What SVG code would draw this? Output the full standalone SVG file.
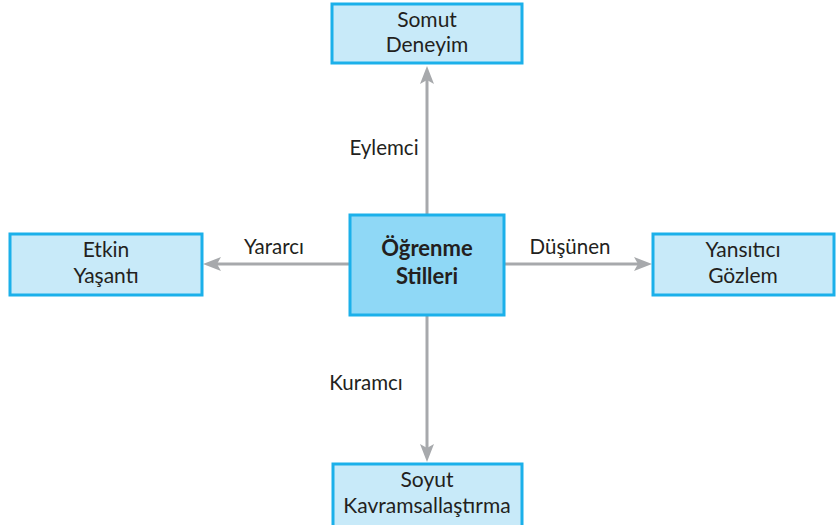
<svg xmlns="http://www.w3.org/2000/svg" width="836" height="525" viewBox="0 0 836 525">
<style>
.box{fill:#c8eaf9;stroke:#1bb0ea;stroke-width:3}
.core{fill:#8fd8f6;stroke:#1bb0ea;stroke-width:3}
.t{font-family:Lato,"Open Sans",sans-serif;font-size:21px;fill:#231f20;text-anchor:middle}
.b{font-weight:bold;font-size:22px}
.c{stroke:#a7a9ac;stroke-width:3;fill:none}
.ah{fill:#a7a9ac}
.l{font-family:Lato,"Open Sans",sans-serif;font-size:20.5px;fill:#231f20;text-anchor:middle}
</style>
<g id="connectors">
<path class="c" d="M427,215 V78"/>
<path class="ah" d="M427,66 L434,84 L427,80 L420,84 Z"/>
<path class="c" d="M427,315 V450"/>
<path class="ah" d="M427,462 L434,444 L427,448 L420,444 Z"/>
<path class="c" d="M350,264 H215"/>
<path class="ah" d="M203,264 L221,257 L217,264 L221,271 Z"/>
<path class="c" d="M505,264 H640"/>
<path class="ah" d="M652,264 L634,257 L638,264 L634,271 Z"/>
<text class="l" x="384" y="155">Eylemci</text>
<text class="l" x="274" y="254">Yararcı</text>
<text class="l" x="570" y="254">Düşünen</text>
<text class="l" x="366" y="390">Kuramcı</text>
</g>
<g id="somut">
<rect class="box" x="332" y="4" width="190" height="59"/>
<text class="t" x="427" y="27">Somut</text>
<text class="t" x="427" y="52">Deneyim</text>
</g>
<g id="center">
<rect class="core" x="350" y="215" width="154" height="100"/>
<text class="t b" x="427" y="256">Öğrenme</text>
<text class="t b" x="427" y="284">Stilleri</text>
</g>
<g id="etkin">
<rect class="box" x="10" y="234" width="192" height="61"/>
<text class="t" x="106" y="257">Etkin</text>
<text class="t" x="106" y="283">Yaşantı</text>
</g>
<g id="yansitici">
<rect class="box" x="653" y="234" width="181" height="61"/>
<text class="t" x="743" y="257">Yansıtıcı</text>
<text class="t" x="743" y="283">Gözlem</text>
</g>
<g id="soyut">
<rect class="box" x="333" y="464" width="189" height="64"/>
<text class="t" x="427" y="487">Soyut</text>
<text class="t" x="427" y="513">Kavramsallaştırma</text>
</g>
</svg>
